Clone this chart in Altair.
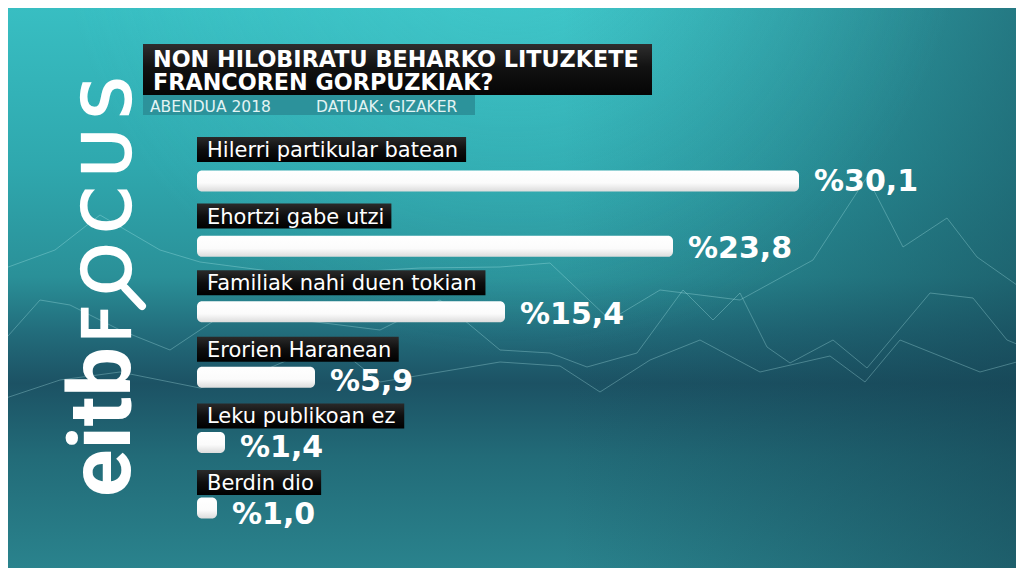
import altair as alt
import pandas as pd

# ---- data -------------------------------------------------------------
categories = ["Hilerri partikular batean", "Ehortzi gabe utzi", "Familiak nahi duen tokian",
              "Erorien Haranean", "Leku publikoan ez", "Berdin dio"]
values = [30.1, 23.8, 15.4, 5.9, 1.4, 1.0]
value_labels = ["%30,1", "%23,8", "%15,4", "%5,9", "%1,4", "%1,0"]

title_lines = ["NON HILOBIRATU BEHARKO LITUZKETE", "FRANCOREN GORPUZKIAK?"]
sub_left = "ABENDUA 2018"
sub_right = "DATUAK: GIZAKER"
logo_bold = "eitb"
logo_letters = ["F", "O", "C", "U", "S"]

# decorative network lines (picture pixels)
net_a_x = [0, 40, 70, 120, 170, 230, 300, 380, 440, 500, 550, 587, 637, 683, 713, 740, 767, 790, 833, 867, 930, 973, 1007, 1024]
net_a_y = [345, 300, 305, 330, 350, 310, 320, 330, 300, 350, 353, 367, 353, 290, 320, 293, 347, 363, 340, 368, 293, 298, 340, 347]
net_b_x = [0, 55, 100, 160, 200, 300, 420, 500, 550, 610, 660, 740, 813, 867, 903, 947, 977, 1024]
net_b_y = [270, 250, 215, 250, 262, 275, 268, 267, 263, 320, 290, 300, 260, 177, 247, 218, 257, 290]
net_c_x = [0, 60, 120, 200, 260, 330, 380, 500, 560, 600, 650, 700, 760, 830, 865, 900, 980, 1024]
net_c_y = [400, 380, 372, 388, 372, 342, 382, 362, 366, 392, 360, 340, 372, 356, 382, 340, 372, 360]

W, H = 1008, 560
PX_PER_UNIT = 20.0
X0 = 189.0            # pixel where value 0 sits
Y0, DY = 171.0, 66.6  # pixel of first bar centre and row step

GLYPH = {" ": .318, "a": .613, "b": .635, "c": .550, "d": .635, "e": .615, "g": .635,
         "h": .634, "i": .278, "k": .579, "l": .278, "m": .974, "n": .634, "o": .612,
         "p": .635, "r": .411, "s": .521, "t": .392, "u": .634, "z": .525, "B": .686,
         "E": .632, "F": .575, "H": .752, "L": .557, "O": .787, "C": .698, "U": .732,
         "S": .635}
LABEL_FS = 21


def text_px(s, fs):
    return sum(GLYPH.get(c, .6) for c in s) * fs


df = pd.DataFrame({
    "category": categories,
    "value": values,
    "label": value_labels,
    "row": list(range(len(categories))),
})
df["zero"] = 0.0
df["box_end"] = [(text_px(c, LABEL_FS) + 17) / PX_PER_UNIT for c in categories]

one = pd.DataFrame({"k": [0]})

xscale = alt.Scale(domain=[-X0 / PX_PER_UNIT, (W - X0) / PX_PER_UNIT], nice=False, zero=False)
yscale = alt.Scale(domain=[-Y0 / DY, (H - Y0) / DY], nice=False, zero=False, reverse=True)
# picture-pixel scales for the decorative network
pxs = alt.Scale(domain=[8, 8 + W], range=[0, W], nice=False, zero=False)
pys = alt.Scale(domain=[8, 8 + H], range=[0, H], nice=False, zero=False)


def full_rect(fill):
    return alt.Chart(one).mark_rect(fill=fill).encode(
        x=alt.value(0), x2=alt.value(W), y=alt.value(0), y2=alt.value(H))


G = alt.GradientStop
bg = full_rect(alt.LinearGradient(
    gradient="linear", x1=0, y1=0, x2=0, y2=1,
    stops=[G(offset=0, color="#38bec2"), G(offset=0.28, color="#2fa8ae"),
           G(offset=0.48, color="#2a9098"), G(offset=0.58, color="#226c7b"),
           G(offset=0.67, color="#1c5264"), G(offset=0.8, color="#226b78"),
           G(offset=1, color="#2a838d")]))

right_shade = full_rect(alt.LinearGradient(
    gradient="linear", x1=0, y1=0, x2=1, y2=0,
    stops=[G(offset=0, color="rgba(20,70,85,0)"), G(offset=0.55, color="rgba(20,70,85,0)"),
           G(offset=1, color="rgba(20,65,80,0.55)")]))

glow = full_rect(alt.RadialGradient(
    gradient="radial", x1=0.5, y1=0.12, x2=0.5, y2=0.12, r1=0, r2=0.45,
    stops=[G(offset=0, color="rgba(80,215,215,0.35)"), G(offset=1, color="rgba(80,215,215,0)")]))

net_frames = []
for name, xs, ys in [("a", net_a_x, net_a_y), ("b", net_b_x, net_b_y), ("c", net_c_x, net_c_y)]:
    net_frames.append(pd.DataFrame({"px": xs, "py": ys, "line": name, "o": range(len(xs))}))
net_df = pd.concat(net_frames, ignore_index=True)

network = alt.Chart(net_df).mark_line(
    color="#b8f2f2", strokeWidth=1.0, opacity=0.3
).encode(
    x=alt.X("px:Q", scale=pxs, axis=None),
    y=alt.Y("py:Q", scale=pys, axis=None),
    detail="line:N",
    order="o:Q",
)

# ---- logo -----------------------------------------------------------------
logo_eitb = alt.Chart(one).mark_text(
    text=logo_bold, angle=270, align="left", baseline="alphabetic",
    font="Roboto", fontWeight="bold", fontSize=88, color="white"
).encode(x=alt.value(122), y=alt.value(489))

FOCUS_FS, FOCUS_GAP, FOCUS_START = 66, 10, 335
pos, cur = [], FOCUS_START
for ch in logo_letters:
    pos.append(cur)
    cur -= GLYPH[ch] * FOCUS_FS + FOCUS_GAP
focus_df = pd.DataFrame({"ch": logo_letters, "py": pos})
logo_focus = alt.Chart(focus_df).mark_text(
    angle=270, align="left", baseline="alphabetic",
    font="DejaVu Sans", fontSize=FOCUS_FS, color="white", stroke="white", strokeWidth=2.2
).encode(
    x=alt.value(122),
    y=alt.Y("py:Q", scale=alt.Scale(domain=[0, H], range=[0, H], nice=False, zero=False), axis=None),
    text="ch:N",
)

handle = alt.Chart(one).mark_rule(color="white", strokeWidth=8, strokeCap="round").encode(
    x=alt.value(117), y=alt.value(280), x2=alt.value(134), y2=alt.value(298))

# ---- title ----------------------------------------------------------------
title_box = alt.Chart(one).mark_rect(
    fill=alt.LinearGradient(
        gradient="linear", x1=0, y1=0, x2=0, y2=1,
        stops=[G(offset=0, color="#2e2e2e"), G(offset=0.45, color="#121212"),
               G(offset=1, color="#050505")])
).encode(x=alt.value(135), x2=alt.value(644), y=alt.value(36), y2=alt.value(87))

title_txt = alt.Chart(one).mark_text(
    text=title_lines, align="left", baseline="alphabetic", lineHeight=23,
    font="DejaVu Sans", fontWeight="bold", fontSize=22.3, color="white"
).encode(x=alt.value(145), y=alt.value(59))

sub_box = alt.Chart(one).mark_rect(color="#2b8f98", opacity=0.92).encode(
    x=alt.value(135), x2=alt.value(467), y=alt.value(87), y2=alt.value(107))

sub_txt1 = alt.Chart(one).mark_text(
    text=sub_left, align="left", baseline="alphabetic",
    font="DejaVu Sans", fontSize=15.5, color="#e3f4f4"
).encode(x=alt.value(142), y=alt.value(104))

sub_txt2 = alt.Chart(one).mark_text(
    text=sub_right, align="left", baseline="alphabetic",
    font="DejaVu Sans", fontSize=15.5, color="#e3f4f4"
).encode(x=alt.value(308), y=alt.value(104))

# ---- data layers ----------------------------------------------------------
base = alt.Chart(df)

label_box = base.mark_rect(
    yOffset=-42, y2Offset=-17,
    fill=alt.LinearGradient(
        gradient="linear", x1=0, y1=0, x2=0, y2=1,
        stops=[G(offset=0, color="#2a2a2a"), G(offset=0.5, color="#0e0e0e"),
               G(offset=1, color="#000000")])
).encode(
    x=alt.X("zero:Q", scale=xscale, axis=None),
    x2="box_end:Q",
    y=alt.Y("row:Q", scale=yscale, axis=None),
    y2="row:Q",
)

label_txt = base.mark_text(
    align="left", baseline="alphabetic", dx=10, dy=-22,
    font="DejaVu Sans", fontSize=LABEL_FS, color="white"
).encode(
    x=alt.X("zero:Q", scale=xscale, axis=None),
    y=alt.Y("row:Q", scale=yscale, axis=None),
    text="category:N",
)

bars = base.mark_bar(
    size=21, cornerRadius=5,
    fill=alt.LinearGradient(
        gradient="linear", x1=0, y1=0, x2=0, y2=1,
        stops=[G(offset=0, color="#ffffff"), G(offset=0.6, color="#fbfbfb"),
               G(offset=1, color="#dcdcdc")])
).encode(
    x=alt.X("zero:Q", scale=xscale, axis=None),
    x2="value:Q",
    y=alt.Y("row:Q", scale=yscale, axis=None),
)

val_txt = base.mark_text(
    align="left", baseline="alphabetic", dx=15, dy=12,
    font="DejaVu Sans", fontWeight="bold", fontSize=30, color="white"
).encode(
    x=alt.X("value:Q", scale=xscale, axis=None),
    y=alt.Y("row:Q", scale=yscale, axis=None),
    text="label:N",
)

chart = alt.layer(
    bg, right_shade, glow, network, logo_eitb, logo_focus, handle,
    title_box, title_txt, sub_box, sub_txt1, sub_txt2,
    label_box, label_txt, bars, val_txt,
).resolve_scale(
    x="independent", y="independent"
).properties(
    width=W, height=H, padding=0, background="#2a8c96",
    autosize=alt.AutoSizeParams(type="none"),
).configure_view(stroke=None)

chart.save("out.html", embed_options={"renderer": "svg", "actions": False})
